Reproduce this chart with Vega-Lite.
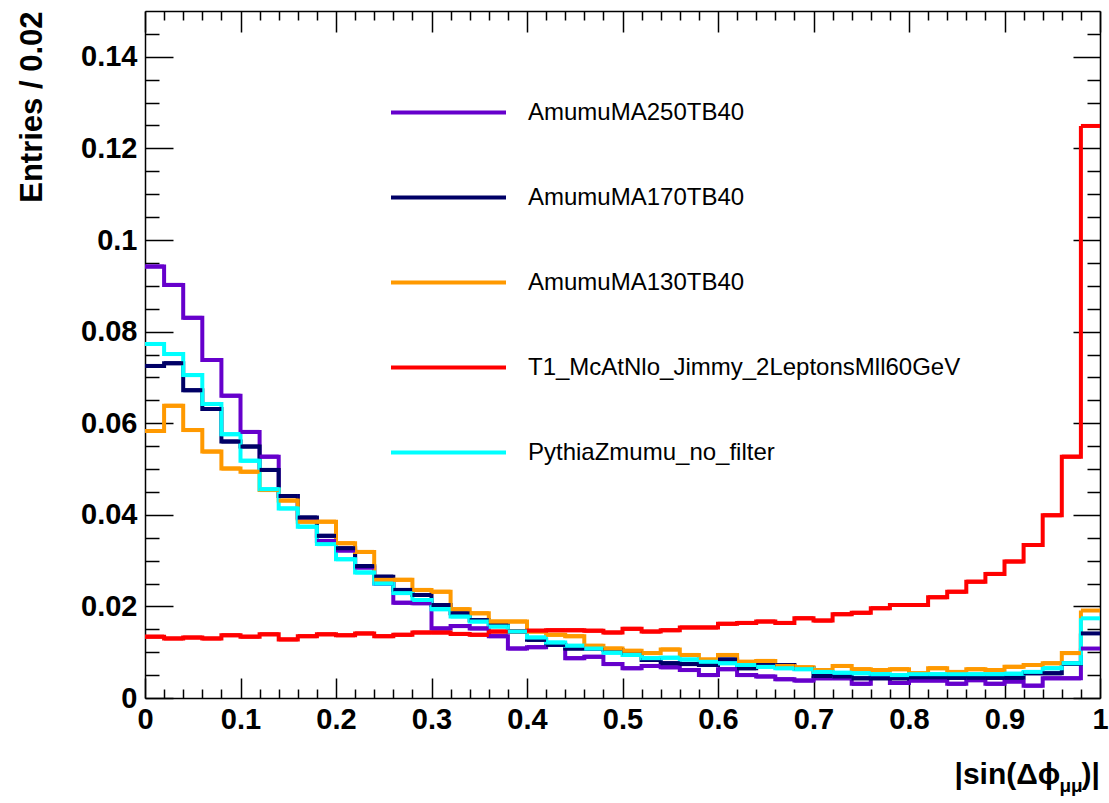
{
  "$schema": "https://vega.github.io/schema/vega-lite/v6.json",
  "width": 955,
  "height": 687,
  "autosize": {"type": "none"},
  "padding": {"left": 145, "top": 11, "right": 9, "bottom": 105},
  "background": "white",
  "config": {
    "view": {"stroke": null},
    "font": "Liberation Sans",
    "axis": {"grid": false, "domainColor": "black", "domainWidth": 1.5, "tickColor": "black", "tickWidth": 1.5, "labelColor": "black", "titleColor": "black", "labelFont": "Liberation Sans", "titleFont": "Liberation Sans", "labelFlush": false, "labelOverlap": false}
  },
  "data": {
    "values": [
      {"lo": 0.00, "hi": 0.02, "AmumuMA250TB40": 0.0942, "AmumuMA170TB40": 0.0725, "AmumuMA130TB40": 0.0583, "T1_McAtNlo_Jimmy_2LeptonsMll60GeV": 0.0134, "PythiaZmumu_no_filter": 0.0773},
      {"lo": 0.02, "hi": 0.04, "AmumuMA250TB40": 0.0902, "AmumuMA170TB40": 0.0731, "AmumuMA130TB40": 0.0638, "T1_McAtNlo_Jimmy_2LeptonsMll60GeV": 0.0130, "PythiaZmumu_no_filter": 0.0751},
      {"lo": 0.04, "hi": 0.06, "AmumuMA250TB40": 0.0830, "AmumuMA170TB40": 0.0672, "AmumuMA130TB40": 0.0585, "T1_McAtNlo_Jimmy_2LeptonsMll60GeV": 0.0132, "PythiaZmumu_no_filter": 0.0705},
      {"lo": 0.06, "hi": 0.08, "AmumuMA250TB40": 0.0738, "AmumuMA170TB40": 0.0631, "AmumuMA130TB40": 0.0538, "T1_McAtNlo_Jimmy_2LeptonsMll60GeV": 0.0130, "PythiaZmumu_no_filter": 0.0642},
      {"lo": 0.08, "hi": 0.10, "AmumuMA250TB40": 0.0660, "AmumuMA170TB40": 0.0560, "AmumuMA130TB40": 0.0501, "T1_McAtNlo_Jimmy_2LeptonsMll60GeV": 0.0137, "PythiaZmumu_no_filter": 0.0576},
      {"lo": 0.10, "hi": 0.12, "AmumuMA250TB40": 0.0581, "AmumuMA170TB40": 0.0549, "AmumuMA130TB40": 0.0494, "T1_McAtNlo_Jimmy_2LeptonsMll60GeV": 0.0134, "PythiaZmumu_no_filter": 0.0518},
      {"lo": 0.12, "hi": 0.14, "AmumuMA250TB40": 0.0527, "AmumuMA170TB40": 0.0498, "AmumuMA130TB40": 0.0454, "T1_McAtNlo_Jimmy_2LeptonsMll60GeV": 0.0139, "PythiaZmumu_no_filter": 0.0456},
      {"lo": 0.14, "hi": 0.16, "AmumuMA250TB40": 0.0441, "AmumuMA170TB40": 0.0441, "AmumuMA130TB40": 0.0431, "T1_McAtNlo_Jimmy_2LeptonsMll60GeV": 0.0128, "PythiaZmumu_no_filter": 0.0414},
      {"lo": 0.16, "hi": 0.18, "AmumuMA250TB40": 0.0392, "AmumuMA170TB40": 0.0394, "AmumuMA130TB40": 0.0385, "T1_McAtNlo_Jimmy_2LeptonsMll60GeV": 0.0135, "PythiaZmumu_no_filter": 0.0374},
      {"lo": 0.18, "hi": 0.20, "AmumuMA250TB40": 0.0343, "AmumuMA170TB40": 0.0354, "AmumuMA130TB40": 0.0385, "T1_McAtNlo_Jimmy_2LeptonsMll60GeV": 0.0139, "PythiaZmumu_no_filter": 0.0336},
      {"lo": 0.20, "hi": 0.22, "AmumuMA250TB40": 0.0322, "AmumuMA170TB40": 0.0327, "AmumuMA130TB40": 0.0338, "T1_McAtNlo_Jimmy_2LeptonsMll60GeV": 0.0137, "PythiaZmumu_no_filter": 0.0303},
      {"lo": 0.22, "hi": 0.24, "AmumuMA250TB40": 0.0285, "AmumuMA170TB40": 0.0288, "AmumuMA130TB40": 0.0319, "T1_McAtNlo_Jimmy_2LeptonsMll60GeV": 0.0141, "PythiaZmumu_no_filter": 0.0274},
      {"lo": 0.24, "hi": 0.26, "AmumuMA250TB40": 0.0250, "AmumuMA170TB40": 0.0265, "AmumuMA130TB40": 0.0258, "T1_McAtNlo_Jimmy_2LeptonsMll60GeV": 0.0135, "PythiaZmumu_no_filter": 0.0250},
      {"lo": 0.26, "hi": 0.28, "AmumuMA250TB40": 0.0208, "AmumuMA170TB40": 0.0236, "AmumuMA130TB40": 0.0258, "T1_McAtNlo_Jimmy_2LeptonsMll60GeV": 0.0138, "PythiaZmumu_no_filter": 0.0229},
      {"lo": 0.28, "hi": 0.30, "AmumuMA250TB40": 0.0207, "AmumuMA170TB40": 0.0225, "AmumuMA130TB40": 0.0236, "T1_McAtNlo_Jimmy_2LeptonsMll60GeV": 0.0143, "PythiaZmumu_no_filter": 0.0214},
      {"lo": 0.30, "hi": 0.32, "AmumuMA250TB40": 0.0152, "AmumuMA170TB40": 0.0203, "AmumuMA130TB40": 0.0232, "T1_McAtNlo_Jimmy_2LeptonsMll60GeV": 0.0143, "PythiaZmumu_no_filter": 0.0194},
      {"lo": 0.32, "hi": 0.34, "AmumuMA250TB40": 0.0157, "AmumuMA170TB40": 0.0185, "AmumuMA130TB40": 0.0194, "T1_McAtNlo_Jimmy_2LeptonsMll60GeV": 0.0140, "PythiaZmumu_no_filter": 0.0178},
      {"lo": 0.34, "hi": 0.36, "AmumuMA250TB40": 0.0152, "AmumuMA170TB40": 0.0170, "AmumuMA130TB40": 0.0185, "T1_McAtNlo_Jimmy_2LeptonsMll60GeV": 0.0138, "PythiaZmumu_no_filter": 0.0167},
      {"lo": 0.36, "hi": 0.38, "AmumuMA250TB40": 0.0135, "AmumuMA170TB40": 0.0159, "AmumuMA130TB40": 0.0167, "T1_McAtNlo_Jimmy_2LeptonsMll60GeV": 0.0145, "PythiaZmumu_no_filter": 0.0156},
      {"lo": 0.38, "hi": 0.40, "AmumuMA250TB40": 0.0108, "AmumuMA170TB40": 0.0145, "AmumuMA130TB40": 0.0167, "T1_McAtNlo_Jimmy_2LeptonsMll60GeV": 0.0145, "PythiaZmumu_no_filter": 0.0145},
      {"lo": 0.40, "hi": 0.42, "AmumuMA250TB40": 0.0111, "AmumuMA170TB40": 0.0127, "AmumuMA130TB40": 0.0145, "T1_McAtNlo_Jimmy_2LeptonsMll60GeV": 0.0147, "PythiaZmumu_no_filter": 0.0132},
      {"lo": 0.42, "hi": 0.44, "AmumuMA250TB40": 0.0116, "AmumuMA170TB40": 0.0116, "AmumuMA130TB40": 0.0138, "T1_McAtNlo_Jimmy_2LeptonsMll60GeV": 0.0148, "PythiaZmumu_no_filter": 0.0121},
      {"lo": 0.44, "hi": 0.46, "AmumuMA250TB40": 0.0087, "AmumuMA170TB40": 0.0108, "AmumuMA130TB40": 0.0135, "T1_McAtNlo_Jimmy_2LeptonsMll60GeV": 0.0148, "PythiaZmumu_no_filter": 0.0114},
      {"lo": 0.46, "hi": 0.48, "AmumuMA250TB40": 0.0090, "AmumuMA170TB40": 0.0108, "AmumuMA130TB40": 0.0114, "T1_McAtNlo_Jimmy_2LeptonsMll60GeV": 0.0147, "PythiaZmumu_no_filter": 0.0108},
      {"lo": 0.48, "hi": 0.50, "AmumuMA250TB40": 0.0074, "AmumuMA170TB40": 0.0105, "AmumuMA130TB40": 0.0108, "T1_McAtNlo_Jimmy_2LeptonsMll60GeV": 0.0143, "PythiaZmumu_no_filter": 0.0099},
      {"lo": 0.50, "hi": 0.52, "AmumuMA250TB40": 0.0065, "AmumuMA170TB40": 0.0098, "AmumuMA130TB40": 0.0103, "T1_McAtNlo_Jimmy_2LeptonsMll60GeV": 0.0151, "PythiaZmumu_no_filter": 0.0094},
      {"lo": 0.52, "hi": 0.54, "AmumuMA250TB40": 0.0070, "AmumuMA170TB40": 0.0083, "AmumuMA130TB40": 0.0098, "T1_McAtNlo_Jimmy_2LeptonsMll60GeV": 0.0145, "PythiaZmumu_no_filter": 0.0087},
      {"lo": 0.54, "hi": 0.56, "AmumuMA250TB40": 0.0067, "AmumuMA170TB40": 0.0076, "AmumuMA130TB40": 0.0106, "T1_McAtNlo_Jimmy_2LeptonsMll60GeV": 0.0148, "PythiaZmumu_no_filter": 0.0088},
      {"lo": 0.56, "hi": 0.58, "AmumuMA250TB40": 0.0061, "AmumuMA170TB40": 0.0074, "AmumuMA130TB40": 0.0094, "T1_McAtNlo_Jimmy_2LeptonsMll60GeV": 0.0154, "PythiaZmumu_no_filter": 0.0084},
      {"lo": 0.58, "hi": 0.60, "AmumuMA250TB40": 0.0050, "AmumuMA170TB40": 0.0072, "AmumuMA130TB40": 0.0084, "T1_McAtNlo_Jimmy_2LeptonsMll60GeV": 0.0154, "PythiaZmumu_no_filter": 0.0079},
      {"lo": 0.60, "hi": 0.62, "AmumuMA250TB40": 0.0063, "AmumuMA170TB40": 0.0084, "AmumuMA130TB40": 0.0094, "T1_McAtNlo_Jimmy_2LeptonsMll60GeV": 0.0162, "PythiaZmumu_no_filter": 0.0076},
      {"lo": 0.62, "hi": 0.64, "AmumuMA250TB40": 0.0050, "AmumuMA170TB40": 0.0065, "AmumuMA130TB40": 0.0079, "T1_McAtNlo_Jimmy_2LeptonsMll60GeV": 0.0164, "PythiaZmumu_no_filter": 0.0072},
      {"lo": 0.64, "hi": 0.66, "AmumuMA250TB40": 0.0047, "AmumuMA170TB40": 0.0072, "AmumuMA130TB40": 0.0081, "T1_McAtNlo_Jimmy_2LeptonsMll60GeV": 0.0167, "PythiaZmumu_no_filter": 0.0068},
      {"lo": 0.66, "hi": 0.68, "AmumuMA250TB40": 0.0041, "AmumuMA170TB40": 0.0072, "AmumuMA130TB40": 0.0070, "T1_McAtNlo_Jimmy_2LeptonsMll60GeV": 0.0164, "PythiaZmumu_no_filter": 0.0065},
      {"lo": 0.68, "hi": 0.70, "AmumuMA250TB40": 0.0038, "AmumuMA170TB40": 0.0065, "AmumuMA130TB40": 0.0067, "T1_McAtNlo_Jimmy_2LeptonsMll60GeV": 0.0174, "PythiaZmumu_no_filter": 0.0063},
      {"lo": 0.70, "hi": 0.72, "AmumuMA250TB40": 0.0043, "AmumuMA170TB40": 0.0048, "AmumuMA130TB40": 0.0061, "T1_McAtNlo_Jimmy_2LeptonsMll60GeV": 0.0169, "PythiaZmumu_no_filter": 0.0057},
      {"lo": 0.72, "hi": 0.74, "AmumuMA250TB40": 0.0043, "AmumuMA170TB40": 0.0047, "AmumuMA130TB40": 0.0070, "T1_McAtNlo_Jimmy_2LeptonsMll60GeV": 0.0183, "PythiaZmumu_no_filter": 0.0055},
      {"lo": 0.74, "hi": 0.76, "AmumuMA250TB40": 0.0031, "AmumuMA170TB40": 0.0043, "AmumuMA130TB40": 0.0063, "T1_McAtNlo_Jimmy_2LeptonsMll60GeV": 0.0186, "PythiaZmumu_no_filter": 0.0054},
      {"lo": 0.76, "hi": 0.78, "AmumuMA250TB40": 0.0047, "AmumuMA170TB40": 0.0043, "AmumuMA130TB40": 0.0061, "T1_McAtNlo_Jimmy_2LeptonsMll60GeV": 0.0196, "PythiaZmumu_no_filter": 0.0052},
      {"lo": 0.78, "hi": 0.80, "AmumuMA250TB40": 0.0033, "AmumuMA170TB40": 0.0043, "AmumuMA130TB40": 0.0063, "T1_McAtNlo_Jimmy_2LeptonsMll60GeV": 0.0203, "PythiaZmumu_no_filter": 0.0050},
      {"lo": 0.80, "hi": 0.82, "AmumuMA250TB40": 0.0038, "AmumuMA170TB40": 0.0045, "AmumuMA130TB40": 0.0054, "T1_McAtNlo_Jimmy_2LeptonsMll60GeV": 0.0203, "PythiaZmumu_no_filter": 0.0052},
      {"lo": 0.82, "hi": 0.84, "AmumuMA250TB40": 0.0038, "AmumuMA170TB40": 0.0045, "AmumuMA130TB40": 0.0065, "T1_McAtNlo_Jimmy_2LeptonsMll60GeV": 0.0220, "PythiaZmumu_no_filter": 0.0052},
      {"lo": 0.84, "hi": 0.86, "AmumuMA250TB40": 0.0031, "AmumuMA170TB40": 0.0044, "AmumuMA130TB40": 0.0057, "T1_McAtNlo_Jimmy_2LeptonsMll60GeV": 0.0232, "PythiaZmumu_no_filter": 0.0052},
      {"lo": 0.86, "hi": 0.88, "AmumuMA250TB40": 0.0039, "AmumuMA170TB40": 0.0044, "AmumuMA130TB40": 0.0063, "T1_McAtNlo_Jimmy_2LeptonsMll60GeV": 0.0254, "PythiaZmumu_no_filter": 0.0052},
      {"lo": 0.88, "hi": 0.90, "AmumuMA250TB40": 0.0031, "AmumuMA170TB40": 0.0044, "AmumuMA130TB40": 0.0061, "T1_McAtNlo_Jimmy_2LeptonsMll60GeV": 0.0271, "PythiaZmumu_no_filter": 0.0052},
      {"lo": 0.90, "hi": 0.92, "AmumuMA250TB40": 0.0036, "AmumuMA170TB40": 0.0044, "AmumuMA130TB40": 0.0068, "T1_McAtNlo_Jimmy_2LeptonsMll60GeV": 0.0298, "PythiaZmumu_no_filter": 0.0053},
      {"lo": 0.92, "hi": 0.94, "AmumuMA250TB40": 0.0027, "AmumuMA170TB40": 0.0054, "AmumuMA130TB40": 0.0072, "T1_McAtNlo_Jimmy_2LeptonsMll60GeV": 0.0334, "PythiaZmumu_no_filter": 0.0057},
      {"lo": 0.94, "hi": 0.96, "AmumuMA250TB40": 0.0043, "AmumuMA170TB40": 0.0054, "AmumuMA130TB40": 0.0076, "T1_McAtNlo_Jimmy_2LeptonsMll60GeV": 0.0399, "PythiaZmumu_no_filter": 0.0065},
      {"lo": 0.96, "hi": 0.98, "AmumuMA250TB40": 0.0043, "AmumuMA170TB40": 0.0075, "AmumuMA130TB40": 0.0098, "T1_McAtNlo_Jimmy_2LeptonsMll60GeV": 0.0527, "PythiaZmumu_no_filter": 0.0076},
      {"lo": 0.98, "hi": 1.00, "AmumuMA250TB40": 0.0108, "AmumuMA170TB40": 0.0141, "AmumuMA130TB40": 0.0191, "T1_McAtNlo_Jimmy_2LeptonsMll60GeV": 0.1249, "PythiaZmumu_no_filter": 0.0174}
    ]
  },
  "transform": [
    {"fold": ["AmumuMA250TB40", "AmumuMA170TB40", "AmumuMA130TB40", "T1_McAtNlo_Jimmy_2LeptonsMll60GeV", "PythiaZmumu_no_filter"], "as": ["series", "v"]}
  ],
  "encoding": {
    "color": {
      "field": "series",
      "type": "nominal",
      "scale": {
        "domain": ["AmumuMA250TB40", "AmumuMA170TB40", "AmumuMA130TB40", "T1_McAtNlo_Jimmy_2LeptonsMll60GeV", "PythiaZmumu_no_filter"],
        "range": ["#6600cc", "#000066", "#ff9900", "#ff0000", "#00ffff"]
      },
      "legend": {
        "orient": "none",
        "legendX": 290,
        "legendY": 88,
        "title": null,
        "padding": 0,
        "symbolType": "M-5,0H5",
        "symbolSize": 529,
        "symbolStrokeWidth": 4,
        "symbolFillColor": "transparent",
        "labelFont": "Liberation Sans",
        "labelFontSize": 24,
        "labelColor": "black",
        "labelOffset": 66,
        "labelLimit": 0,
        "rowPadding": 59
      }
    }
  },
  "layer": [
    {
      "mark": {"type": "line", "interpolate": "step-after", "strokeWidth": 4, "strokeJoin": "miter"},
      "encoding": {
        "x": {
          "field": "lo", "type": "quantitative",
          "scale": {"domain": [0, 1], "nice": false, "zero": false},
          "axis": {
            "orient": "bottom",
            "values": [0,0.02,0.04,0.06,0.08,0.1,0.12,0.14,0.16,0.18,0.2,0.22,0.24,0.26,0.28,0.3,0.32,0.34,0.36,0.38,0.4,0.42,0.44,0.46,0.48,0.5,0.52,0.54,0.56,0.58,0.6,0.62,0.64,0.66,0.68,0.7,0.72,0.74,0.76,0.78,0.8,0.82,0.84,0.86,0.88,0.9,0.92,0.94,0.96,0.98,1],
            "tickSize": {"condition": {"test": "abs(datum.value*10-round(datum.value*10))<1e-6", "value": -20}, "value": -9},
            "labelExpr": "abs(datum.value*10-round(datum.value*10))<1e-6 ? format(datum.value,'.1~f') : ''",
            "labelFontSize": 29,
            "labelFontWeight": "bold",
            "labelPadding": 27,
            "title": "|sin(Δϕ",
            "titleFontSize": 30,
            "titleFontWeight": "bold",
            "titleAlign": "left",
            "titleBaseline": "alphabetic",
            "titleX": 809,
            "titleY": 85
          }
        },
        "y": {
          "field": "v", "type": "quantitative",
          "scale": {"domain": [0, 0.15], "nice": false, "zero": false},
          "axis": {
            "orient": "left",
            "values": [0,0.005,0.01,0.015,0.02,0.025,0.03,0.035,0.04,0.045,0.05,0.055,0.06,0.065,0.07,0.075,0.08,0.085,0.09,0.095,0.1,0.105,0.11,0.115,0.12,0.125,0.13,0.135,0.14,0.145],
            "tickSize": {"condition": {"test": "abs(datum.value*50-round(datum.value*50))<1e-6", "value": -28}, "value": -14},
            "labelExpr": "abs(datum.value*50-round(datum.value*50))<1e-6 ? format(datum.value,'.2~f') : ''",
            "labelFontSize": 29,
            "labelFontWeight": "bold",
            "labelPadding": 36,
            "title": "Entries / 0.02",
            "titleFontSize": 31,
            "titleFontWeight": "bold",
            "titleAngle": -90,
            "titleAlign": "right",
            "titleBaseline": "alphabetic",
            "titleX": -104,
            "titleY": 0
          }
        }
      }
    },
    {
      "mark": {"type": "rule", "strokeWidth": 4},
      "encoding": {
        "x": {
          "field": "lo", "type": "quantitative",
          "scale": {"domain": [0, 1], "nice": false, "zero": false},
          "axis": {
            "orient": "top",
            "values": [0,0.02,0.04,0.06,0.08,0.1,0.12,0.14,0.16,0.18,0.2,0.22,0.24,0.26,0.28,0.3,0.32,0.34,0.36,0.38,0.4,0.42,0.44,0.46,0.48,0.5,0.52,0.54,0.56,0.58,0.6,0.62,0.64,0.66,0.68,0.7,0.72,0.74,0.76,0.78,0.8,0.82,0.84,0.86,0.88,0.9,0.92,0.94,0.96,0.98,1],
            "tickSize": {"condition": {"test": "abs(datum.value*10-round(datum.value*10))<1e-6", "value": -21}, "value": -9},
            "labels": false,
            "title": "μμ",
            "titleFontSize": 19,
            "titleFontWeight": "bold",
            "titleAngle": 0,
            "titleAlign": "left",
            "titleBaseline": "alphabetic",
            "titleX": 914,
            "titleY": 780
          }
        },
        "x2": {"field": "hi"},
        "y": {
          "field": "v", "type": "quantitative",
          "scale": {"domain": [0, 0.15], "nice": false, "zero": false},
          "axis": {
            "orient": "right",
            "values": [0,0.005,0.01,0.015,0.02,0.025,0.03,0.035,0.04,0.045,0.05,0.055,0.06,0.065,0.07,0.075,0.08,0.085,0.09,0.095,0.1,0.105,0.11,0.115,0.12,0.125,0.13,0.135,0.14,0.145],
            "tickSize": {"condition": {"test": "abs(datum.value*50-round(datum.value*50))<1e-6", "value": -27}, "value": -13},
            "labels": false,
            "title": ")|",
            "titleFontSize": 30,
            "titleFontWeight": "bold",
            "titleAngle": 0,
            "titleAlign": "left",
            "titleBaseline": "alphabetic",
            "titleX": -19,
            "titleY": 772
          }
        }
      }
    }
  ],
  "resolve": {"scale": {"x": "independent", "y": "independent"}}
}
